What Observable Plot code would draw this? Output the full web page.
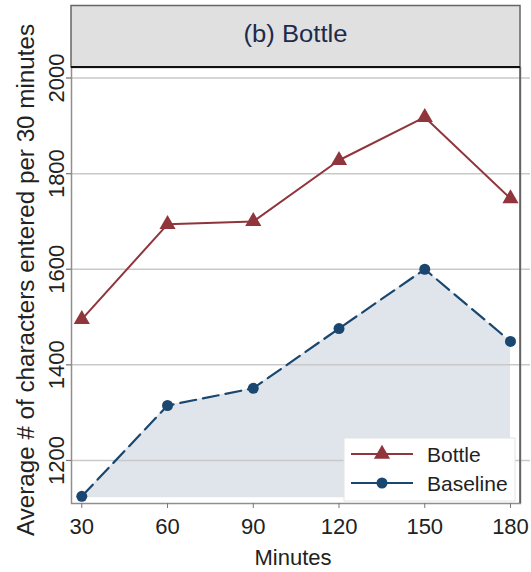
<!DOCTYPE html>
<html><head><meta charset="utf-8">
<script src="https://cdn.jsdelivr.net/npm/d3@7"></script>
<script src="https://cdn.jsdelivr.net/npm/@observablehq/plot@0.6"></script>
<style>body{margin:0;background:#fff} svg{display:block}</style>
</head><body><div id="chart"></div>
<script>
const minutes = [30, 60, 90, 120, 150, 180];
const bottle = [1495, 1694, 1700, 1828, 1918, 1748];
const baseline = [1125, 1315, 1351, 1476, 1600, 1449];
const yTicks = [1200, 1400, 1600, 1800, 2000];
const xTicks = [30, 60, 90, 120, 150, 180];
const areaFloor = 1122;
const title = "(b) Bottle";
const xLabel = "Minutes";
const yLabel = "Average # of characters entered per 30 minutes";
const seriesNames = ["Bottle", "Baseline"];
const colors = ["#90353b", "#1a476f"];

const bottleData = minutes.map((m, i) => ({m, v: bottle[i]}));
const baseData = minutes.map((m, i) => ({m, v: baseline[i]}));

const W = 531, H = 572, ML = 71, MR = 11, MT = 67, MB = 69;
const FONT = "'Liberation Sans', Arial, Helvetica, sans-serif";

const chart = Plot.plot({
  width: W, height: H,
  marginLeft: ML, marginRight: MR, marginTop: MT, marginBottom: MB,
  style: {fontFamily: FONT, fontSize: "22px", color: "#222", background: "#fff", overflow: "visible"},
  x: {domain: [26.4, 183.5]},
  y: {domain: [1110, 2022]},
  marks: [
    Plot.areaY(baseData, {x: "m", y1: areaFloor, y2: "v", fill: "#dfe5ea"}),
    Plot.ruleY(yTicks, {stroke: "#c9c9c9", strokeWidth: 1.5, insetLeft: -5, insetRight: -10}),
    Plot.frame({stroke: "#8f8f8f", strokeWidth: 1.5}),
    Plot.axisX({ticks: xTicks, tickSize: 5, tickPadding: 10, label: null, stroke: "#777", fill: "#222"}),
    Plot.axisY({ticks: yTicks, tickSize: 5, tickRotate: -90, tickPadding: 3, label: null, stroke: "#777", fill: "#222", tickFormat: d => String(d)}),
    Plot.line(bottleData, {x: "m", y: "v", stroke: colors[0], strokeWidth: 2}),
    Plot.dot(bottleData, {x: "m", y: "v", symbol: "triangle", r: 6, fill: colors[0]}),
    Plot.line(baseData, {x: "m", y: "v", stroke: colors[1], strokeWidth: 2.2, strokeDasharray: "16,7"}),
    Plot.dot(baseData, {x: "m", y: "v", r: 5.5, fill: colors[1]})
  ]
});
document.getElementById("chart").appendChild(chart);

const svg = d3.select(chart);
// right frame edge darker
svg.append("line").attr("x1", W - MR).attr("x2", W - MR).attr("y1", MT).attr("y2", H - MB)
  .attr("stroke", "#555").attr("stroke-width", 1.5);
// header strip
const hdr = svg.append("g");
hdr.append("rect").attr("x", ML).attr("y", 5.5).attr("width", W - MR - ML).attr("height", MT - 5.5)
  .attr("fill", "#e0e0e0").attr("stroke", "#666").attr("stroke-width", 1.5);
hdr.append("line").attr("x1", ML).attr("x2", W - MR).attr("y1", MT).attr("y2", MT)
  .attr("stroke", "#111").attr("stroke-width", 2);
hdr.append("text").attr("x", (ML + W - MR) / 2).attr("y", 42).attr("text-anchor", "middle")
  .attr("font-family", FONT).attr("font-size", 23).attr("fill", "#1c2b4a")
  .attr("textLength", 104).attr("lengthAdjust", "spacingAndGlyphs").text(title);
// axis titles
svg.append("text").attr("transform", "translate(34,280) rotate(-90)").attr("text-anchor", "middle")
  .attr("font-family", FONT).attr("font-size", 23).attr("fill", "#222")
  .attr("textLength", 512).attr("lengthAdjust", "spacingAndGlyphs").text(yLabel);
svg.append("text").attr("x", 293).attr("y", 565).attr("text-anchor", "middle")
  .attr("font-family", FONT).attr("font-size", 22).attr("fill", "#222").text(xLabel);
// legend
const lg = svg.append("g");
lg.append("rect").attr("x", 344).attr("y", 438).attr("width", 171).attr("height", 63)
  .attr("fill", "#fff").attr("stroke", "#e4e4e4");
const rows = [454, 483];
const syms = [d3.symbolTriangle, d3.symbolCircle];
const rs = [6, 5.5];
seriesNames.forEach((name, i) => {
  lg.append("line").attr("x1", 351).attr("x2", 413).attr("y1", rows[i]).attr("y2", rows[i])
    .attr("stroke", colors[i]).attr("stroke-width", 2.2);
  lg.append("path").attr("transform", `translate(382,${rows[i]})`)
    .attr("d", d3.symbol(syms[i], rs[i] * rs[i] * Math.PI)()).attr("fill", colors[i]);
  lg.append("text").attr("x", 427).attr("y", rows[i] + 8).attr("text-anchor", "start")
    .attr("font-family", FONT).attr("font-size", 21).attr("fill", "#222").text(name);
});
</script>
</body></html>
